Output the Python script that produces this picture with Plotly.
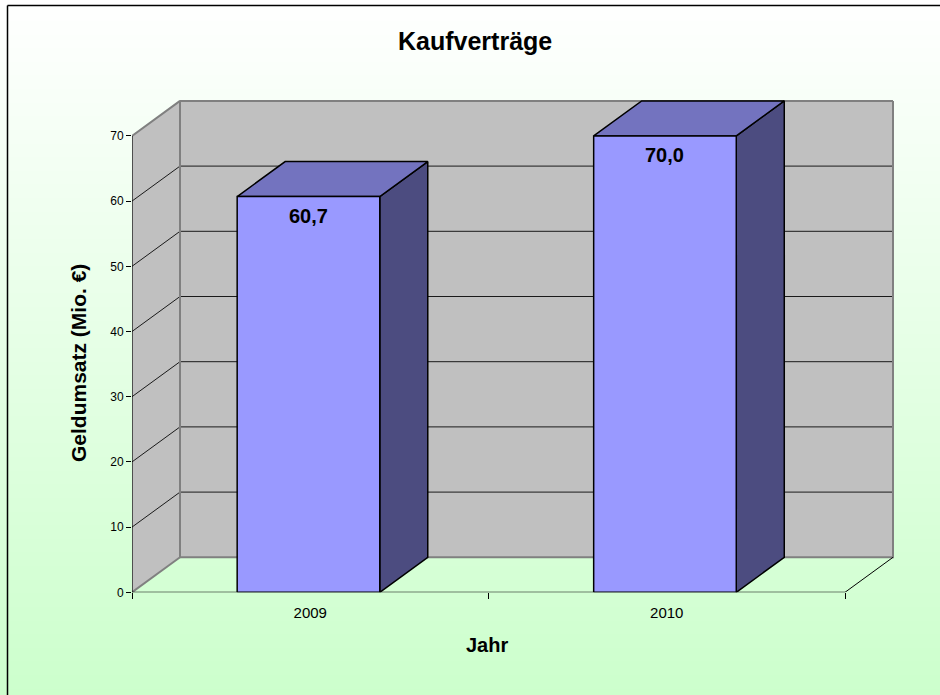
import plotly.graph_objects as go

# ---------------- data ----------------
years = ["2009", "2010"]
umsatz = [60.7, 70.0]
value_labels = ["60,7", "70,0"]
y_ticks = [0, 10, 20, 30, 40, 50, 60, 70]

# ---------------- geometry / style ----------------
W, H = 940, 695
FONT = "Arial, 'Liberation Sans', sans-serif"
PX_X0, PX_X1 = 132, 900          # plot area left/right (px)
PX_Y0, PX_Y1 = 592.3, 92         # y=0 pixel row, top of plot area (px)
PX_PER_CAT = 356.5
PX_PER_UNIT = 6.52
x_range = [0, (PX_X1 - PX_X0) / PX_PER_CAT]
y_range = [0, (PX_Y0 - PX_Y1) / PX_PER_UNIT]
DX = 48 / PX_PER_CAT             # 3D depth in category units
DY = 35 / PX_PER_UNIT            # 3D depth in value units
YMAX = y_ticks[-1]
ncat = len(years)
BAR_W = 0.4
SHIFT = -0.005

C_WALL = "#c0c0c0"
C_WALL_EDGE = "#808080"
C_FRONT = "#9999ff"
C_TOP = "#7373bf"
C_SIDE = "#4c4c80"

fig = go.Figure()

# background gradient (own full-page subplot, drawn first)
fig.add_trace(go.Heatmap(
    x=[0, 1], y=[0, 1], z=[[0, 0], [1, 1]],
    colorscale=[[0, "#ccffcc"], [1, "#ffffff"]],
    zsmooth="best", showscale=False, hoverinfo="skip",
    xaxis="x", yaxis="y"))


def poly(xs, ys, fill, lc, lw):
    fig.add_trace(go.Scatter(
        x=list(xs) + [xs[0]], y=list(ys) + [ys[0]], mode="lines",
        fill="toself", fillcolor=fill, line=dict(color=lc, width=lw),
        hoverinfo="skip", showlegend=False, xaxis="x2", yaxis="y2"))


def line(xs, ys, lc, lw):
    fig.add_trace(go.Scatter(
        x=xs, y=ys, mode="lines", line=dict(color=lc, width=lw),
        hoverinfo="skip", showlegend=False, xaxis="x2", yaxis="y2"))


# walls
poly([0, DX, DX, 0], [0, DY, YMAX + DY, YMAX], C_WALL, C_WALL, 0)
poly([DX, ncat + DX, ncat + DX, DX], [DY, DY, YMAX + DY, YMAX + DY], C_WALL, C_WALL, 0)

# gridlines
gx, gy = [], []
for v in y_ticks[1:-1]:
    gx += [0, DX, ncat + DX, None]
    gy += [v, v + DY, v + DY, None]
line(gx, gy, "#1a1a1a", 1)

# wall edges
line([0, DX, DX, ncat + DX, ncat + DX],
     [YMAX, YMAX + DY, DY, DY, YMAX + DY], C_WALL_EDGE, 2)
line([DX, ncat + DX], [YMAX + DY, YMAX + DY], C_WALL_EDGE, 2)
line([0, DX], [0, DY], C_WALL_EDGE, 2)

# floor edges and axis lines
line([ncat, ncat + DX], [0, DY], "#000000", 1)
line([0, ncat], [0, 0], "#000000", 1.2)
line([0, 0], [0, YMAX], "#000000", 1.2)

# bars
annotations = []
for i, (v, lab) in enumerate(zip(umsatz, value_labels)):
    x0 = i + (1 - BAR_W) / 2 + SHIFT
    x1 = x0 + BAR_W
    poly([x1, x1 + DX, x1 + DX, x1], [0, DY, v + DY, v], C_SIDE, "#000000", 1.5)
    poly([x0, x0 + DX, x1 + DX, x1], [v, v + DY, v + DY, v], C_TOP, "#000000", 1.5)
    poly([x0, x1, x1, x0], [0, 0, v, v], C_FRONT, "#000000", 1.5)
    annotations.append(dict(
        x=(x0 + x1) / 2, y=v, xref="x2", yref="y2", text=lab, showarrow=False,
        yanchor="top", yshift=-6,
        font=dict(family=FONT, size=20, color="#000000", weight="bold")))

# titles
annotations += [
    dict(x=475 / W, y=1 - 41 / H, xref="paper", yref="paper", text="Kaufverträge",
         showarrow=False, xanchor="center", yanchor="middle",
         font=dict(family=FONT, size=25, color="#000000", weight="bold")),
    dict(x=487 / W, y=1 - 645 / H, xref="paper", yref="paper", text="Jahr",
         showarrow=False, xanchor="center", yanchor="middle",
         font=dict(family=FONT, size=20, color="#000000", weight="bold")),
    dict(x=78 / W, y=1 - 363 / H, xref="paper", yref="paper",
         text="Geldumsatz (Mio. €)", textangle=-90,
         showarrow=False, xanchor="center", yanchor="middle",
         font=dict(family=FONT, size=21, color="#000000", weight="bold")),
]

fig.update_layout(
    width=W, height=H, autosize=False,
    margin=dict(l=0, r=0, t=0, b=0, pad=0, autoexpand=False),
    paper_bgcolor="#ccffcc", plot_bgcolor="rgba(0,0,0,0)",
    showlegend=False, hovermode=False,
    font=dict(family=FONT, color="#000000"),
    xaxis=dict(domain=[0, 1], range=[0, 1], visible=False, fixedrange=True,
               automargin=False),
    yaxis=dict(domain=[0, 1], range=[0, 1], visible=False, fixedrange=True,
               automargin=False),
    xaxis2=dict(
        domain=[PX_X0 / W, PX_X1 / W], range=x_range, anchor="y2", automargin=False,
        tickvals=[i + 0.5 for i in range(ncat)], ticktext=years, ticks="",
        tickfont=dict(size=15, color="#000000"), ticklabelstandoff=10,
        minor=dict(tickvals=list(range(ncat + 1)), ticks="outside", ticklen=6,
                   tickcolor="#000000", tickwidth=1, showgrid=False),
        showgrid=False, zeroline=False, showline=False, fixedrange=True),
    yaxis2=dict(
        domain=[1 - PX_Y0 / H, 1 - PX_Y1 / H], range=y_range, anchor="x2",
        automargin=False,
        tickvals=y_ticks, ticktext=[str(t) for t in y_ticks], ticks="outside",
        ticklen=5, tickcolor="#000000", tickwidth=1,
        tickfont=dict(size=12, color="#000000"),
        showgrid=False, zeroline=False, showline=False, fixedrange=True),
    annotations=annotations,
    shapes=[
        dict(type="line", xref="paper", yref="paper",
             x0=7.5 / W, y0=0, x1=7.5 / W, y1=1 - 5.5 / H,
             line=dict(color="#000000", width=1.5), layer="above"),
        dict(type="line", xref="paper", yref="paper",
             x0=7.5 / W, y0=1 - 5.5 / H, x1=1, y1=1 - 5.5 / H,
             line=dict(color="#000000", width=1.5), layer="above"),
    ],
)

fig.write_html(
    "out.html", config={"displayModeBar": False},
    post_script=("document.body.style.margin='0';"
                 "document.body.style.overflow='hidden';"
                 "document.documentElement.style.overflow='hidden';"))
